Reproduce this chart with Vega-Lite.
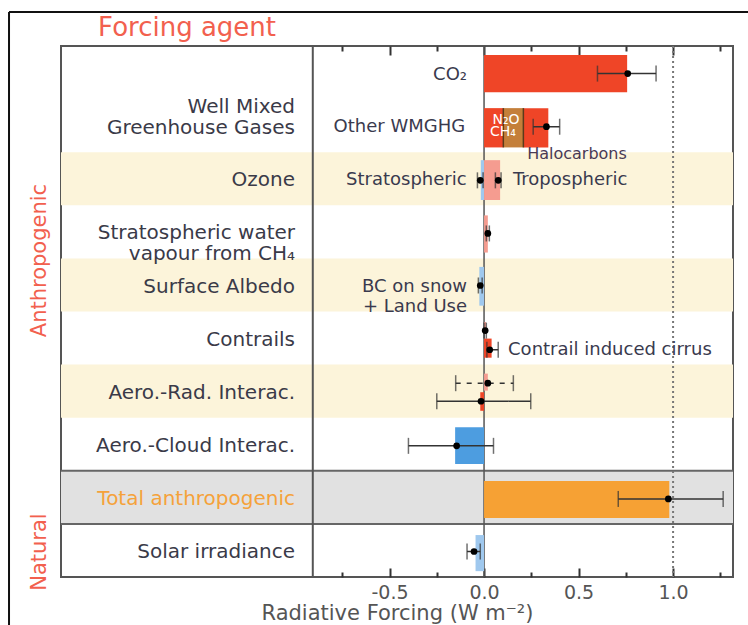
{
  "$schema": "https://vega.github.io/schema/vega-lite/v6.json",
  "description": "Radiative forcing by forcing agent, anthropogenic and natural.",
  "autosize": {"type": "none"},
  "padding": {"left": 61, "top": 46, "right": 15, "bottom": 48},
  "width": 672,
  "height": 531,
  "datasets": {
    "bands": [
      {"row": "Ozone", "y0": 2, "y1": 3, "kind": "odd"},
      {"row": "Surface Albedo", "y0": 4, "y1": 5, "kind": "odd"},
      {"row": "Aero.-Rad. Interac.", "y0": 6, "y1": 7, "kind": "odd"},
      {"row": "Total anthropogenic", "y0": 8, "y1": 9, "kind": "total"}
    ],
    "bars": [
      {"agent": "CO2", "x0": 0, "x1": 0.757, "y0": 0.17, "y1": 0.87, "type": "warming"},
      {"agent": "CH4", "x0": 0, "x1": 0.102, "y0": 1.17, "y1": 1.91, "type": "warming"},
      {"agent": "N2O", "x0": 0.102, "x1": 0.208, "y0": 1.17, "y1": 1.91, "type": "n2o"},
      {"agent": "Halocarbons", "x0": 0.208, "x1": 0.34, "y0": 1.17, "y1": 1.91, "type": "warming"},
      {"agent": "Stratospheric ozone", "x0": -0.017, "x1": 0, "y0": 2.15, "y1": 2.9, "type": "cooling_hatch"},
      {"agent": "Tropospheric ozone", "x0": 0, "x1": 0.085, "y0": 2.15, "y1": 2.9, "type": "warming_hatch"},
      {"agent": "Stratospheric water vapour", "x0": 0, "x1": 0.02, "y0": 3.19, "y1": 3.89, "type": "warming_hatch"},
      {"agent": "Surface albedo", "x0": -0.025, "x1": 0, "y0": 4.16, "y1": 4.89, "type": "cooling_hatch"},
      {"agent": "Contrails", "x0": 0, "x1": 0.01, "y0": 5.2, "y1": 5.42, "type": "warming_hatch"},
      {"agent": "Contrail induced cirrus", "x0": 0, "x1": 0.04, "y0": 5.51, "y1": 5.87, "type": "warming"},
      {"agent": "Aerosol-radiation RF", "x0": 0, "x1": 0.02, "y0": 6.17, "y1": 6.49, "type": "warming_hatch"},
      {"agent": "Aerosol-radiation ERF", "x0": -0.02, "x1": 0, "y0": 6.52, "y1": 6.87, "type": "warming"},
      {"agent": "Aerosol-cloud", "x0": -0.153, "x1": 0, "y0": 7.18, "y1": 7.87, "type": "cooling"},
      {"agent": "Total anthropogenic", "x0": 0, "x1": 0.98, "y0": 8.19, "y1": 8.89, "type": "total"},
      {"agent": "Solar irradiance", "x0": -0.045, "x1": 0, "y0": 9.21, "y1": 9.89, "type": "cooling_hatch"}
    ],
    "errors": [
      {"agent": "CO2", "y": 0.52, "best": 0.76, "low": 0.6, "high": 0.91, "estimate": "ERF"},
      {"agent": "Other WMGHG", "y": 1.52, "best": 0.33, "low": 0.26, "high": 0.4, "estimate": "ERF"},
      {"agent": "Stratospheric ozone", "y": 2.53, "best": -0.02, "low": -0.035, "high": -0.005, "estimate": "ERF"},
      {"agent": "Tropospheric ozone", "y": 2.53, "best": 0.075, "low": 0.06, "high": 0.09, "estimate": "ERF"},
      {"agent": "Stratospheric water vapour", "y": 3.53, "best": 0.02, "low": 0.012, "high": 0.028, "estimate": "ERF"},
      {"agent": "Surface albedo", "y": 4.51, "best": -0.02, "low": -0.03, "high": -0.01, "estimate": "ERF"},
      {"agent": "Contrails", "y": 5.36, "best": 0.006, "low": 0.0, "high": 0.012, "estimate": "ERF"},
      {"agent": "Contrail induced cirrus", "y": 5.72, "best": 0.03, "low": 0.015, "high": 0.075, "estimate": "ERF"},
      {"agent": "Aerosol-radiation RF", "y": 6.35, "best": 0.02, "low": -0.15, "high": 0.155, "estimate": "RF"},
      {"agent": "Aerosol-radiation ERF", "y": 6.69, "best": -0.016, "low": -0.25, "high": 0.247, "estimate": "ERF"},
      {"agent": "Aerosol-cloud", "y": 7.53, "best": -0.145, "low": -0.4, "high": 0.05, "estimate": "ERF"},
      {"agent": "Total anthropogenic", "y": 8.53, "best": 0.975, "low": 0.71, "high": 1.265, "estimate": "ERF"},
      {"agent": "Solar irradiance", "y": 9.52, "best": -0.053, "low": -0.09, "high": -0.02, "estimate": "ERF"}
    ],
    "rows": [
      {"label": "Well Mixed\nGreenhouse Gases", "y": 1.14, "group": "agent"},
      {"label": "Ozone", "y": 2.53, "group": "agent"},
      {"label": "Stratospheric water\nvapour from CH₄", "y": 3.52, "group": "agent"},
      {"label": "Surface Albedo", "y": 4.53, "group": "agent"},
      {"label": "Contrails", "y": 5.53, "group": "agent"},
      {"label": "Aero.-Rad. Interac.", "y": 6.53, "group": "agent"},
      {"label": "Aero.-Cloud Interac.", "y": 7.53, "group": "agent"},
      {"label": "Total anthropogenic", "y": 8.53, "group": "total"},
      {"label": "Solar irradiance", "y": 9.53, "group": "agent"}
    ],
    "notes": [
      {"note": "CO₂", "x": -0.09, "y": 0.55, "side": "left"},
      {"note": "Other WMGHG", "x": -0.1, "y": 1.52, "side": "left"},
      {"note": "Stratospheric", "x": -0.092, "y": 2.53, "side": "left"},
      {"note": "BC on snow\n+ Land Use", "x": -0.09, "y": 4.54, "side": "left"},
      {"note": "Tropospheric", "x": 0.153, "y": 2.53, "side": "right"},
      {"note": "Contrail induced cirrus", "x": 0.127, "y": 5.72, "side": "right"}
    ],
    "inbar": [
      {"note": "N₂O", "x": 0.116, "y": 1.4},
      {"note": "CH₄", "x": 0.1, "y": 1.62}
    ],
    "groups": [
      {"group": "Anthropogenic", "x": -2.35, "y": 4.04},
      {"group": "Natural", "x": -2.35, "y": 9.53}
    ],
    "frame": [
      {"x0": -2.513, "x1": 1.42, "y0": -0.64, "y1": -0.64},
      {"x0": -2.513, "x1": -2.513, "y0": -0.64, "y1": 11}
    ]
  },
  "resolve": {"axis": {"x": "independent"}},
  "layer": [
    {
      "data": {"name": "bands"},
      "mark": {"type": "rect"},
      "encoding": {
        "y": {"field": "y0", "type": "quantitative", "axis": null,
              "scale": {"domain": [0, 10], "reverse": true, "nice": false, "zero": false}},
        "y2": {"field": "y1"},
        "color": {"field": "kind", "type": "nominal", "legend": null,
                  "scale": {"domain": ["odd", "total"], "range": ["#fcf4da", "#e1e1e1"]}}
      }
    },
    {
      "data": {"values": [{"sep": 8}, {"sep": 9}]},
      "mark": {"type": "rule", "color": "#666", "strokeWidth": 2},
      "encoding": {
        "y": {"field": "sep", "type": "quantitative", "axis": null}
      }
    },
    {
      "data": {"values": [{"edge": -0.906}]},
      "mark": {"type": "rule", "color": "#555", "strokeWidth": 2},
      "encoding": {
        "x": {"field": "edge", "type": "quantitative", "axis": null,
              "scale": {"domain": [-2.238, 1.317], "nice": false, "zero": false}}
      }
    },
    {
      "data": {"values": [{"ref": 1.0}]},
      "mark": {"type": "rule", "color": "#777", "strokeWidth": 2, "strokeDash": [2, 3]},
      "encoding": {
        "x": {"field": "ref", "type": "quantitative",
              "axis": {
                "orient": "bottom",
                "values": [-0.75, -0.5, -0.25, 0, 0.25, 0.5, 0.75, 1, 1.25],
                "labelExpr": "datum.value % 0.5 === 0 ? replace(format(datum.value, '.1f'), '−', '-') : ''",
                "tickSize": {"condition": {"test": "datum.value % 0.5 === 0", "value": -9}, "value": -5},
                "tickColor": "#333",
                "tickWidth": 2,
                "domain": false,
                "grid": false,
                "labelFontSize": 19,
                "labelColor": "#555",
                "labelPadding": 15,
                "title": "Radiative Forcing (W m⁻²)",
                "titleFontSize": 21,
                "titleFontWeight": "normal",
                "titleColor": "#555",
                "titlePadding": 0
              }}
      }
    },
    {
      "data": {"values": [{"zero": 0}]},
      "mark": {"type": "rule", "color": "#555", "strokeWidth": 1.5},
      "encoding": {
        "x": {"field": "zero", "type": "quantitative",
              "axis": {
                "orient": "top",
                "values": [-0.75, -0.5, -0.25, 0, 0.25, 0.5, 0.75, 1, 1.25],
                "labels": false,
                "tickSize": {"condition": {"test": "datum.value % 0.5 === 0", "value": -9}, "value": -5},
                "tickColor": "#333",
                "tickWidth": 2,
                "domain": false,
                "grid": false,
                "title": null
              }}
      }
    },
    {
      "data": {"name": "bars"},
      "mark": {"type": "rect"},
      "encoding": {
        "x": {"field": "x0", "type": "quantitative", "axis": null},
        "x2": {"field": "x1"},
        "y": {"field": "y0", "type": "quantitative", "axis": null},
        "y2": {"field": "y1"},
        "fill": {"field": "type", "type": "nominal", "legend": null,
                 "scale": {"domain": ["warming", "n2o", "cooling", "total", "warming_hatch", "cooling_hatch"],
                           "range": ["#ef4527", "#c47f3a", "#4d9de0", "#f6a134", "#f59c90", "#9fc8ee"]}},
        "tooltip": [{"field": "agent", "type": "nominal"}]
      }
    },
    {
      "data": {"values": [{"edge": 0.102}, {"edge": 0.208}]},
      "mark": {"type": "rule", "color": "#5a3a1a", "strokeWidth": 1.5},
      "encoding": {
        "x": {"field": "edge", "type": "quantitative", "axis": null},
        "y": {"datum": 1.17, "type": "quantitative", "axis": null},
        "y2": {"datum": 1.91}
      }
    },
    {
      "data": {"name": "errors"},
      "mark": {"type": "rule", "color": "#333", "strokeWidth": 1.5},
      "encoding": {
        "x": {"field": "low", "type": "quantitative", "axis": null},
        "x2": {"field": "high"},
        "y": {"field": "y", "type": "quantitative", "axis": null},
        "strokeDash": {"field": "estimate", "type": "nominal", "legend": null,
                       "scale": {"domain": ["ERF", "RF"], "range": [[1, 0], [5, 6]]}}
      }
    },
    {
      "data": {"name": "errors"},
      "transform": [{"fold": ["low", "high"], "as": ["end", "value"]}],
      "mark": {"type": "tick", "orient": "vertical", "color": "#333", "size": 16, "thickness": 1.5},
      "encoding": {
        "x": {"field": "value", "type": "quantitative", "axis": null},
        "y": {"field": "y", "type": "quantitative", "axis": null}
      }
    },
    {
      "data": {"name": "errors"},
      "mark": {"type": "point", "shape": "circle", "filled": true, "color": "#000", "size": 45, "opacity": 1},
      "encoding": {
        "x": {"field": "best", "type": "quantitative", "axis": null},
        "y": {"field": "y", "type": "quantitative", "axis": null},
        "tooltip": [{"field": "agent", "type": "nominal"}, {"field": "best", "type": "quantitative"}]
      }
    },
    {
      "data": {"name": "rows"},
      "mark": {"type": "text", "align": "right", "baseline": "middle", "fontSize": 20, "lineBreak": "\n", "lineHeight": 21},
      "encoding": {
        "x": {"datum": -1.0, "type": "quantitative", "axis": null},
        "y": {"field": "y", "type": "quantitative", "axis": null},
        "text": {"field": "label"},
        "color": {"condition": {"test": "datum.group === 'total'", "value": "#f5a23a"}, "value": "#3a3a48"}
      }
    },
    {
      "data": {"name": "notes"},
      "transform": [{"filter": "datum.side === 'left'"}],
      "mark": {"type": "text", "align": "right", "baseline": "middle", "fontSize": 18, "color": "#3a3a4e", "lineBreak": "\n", "lineHeight": 20},
      "encoding": {
        "x": {"field": "x", "type": "quantitative", "axis": null},
        "y": {"field": "y", "type": "quantitative", "axis": null},
        "text": {"field": "note"}
      }
    },
    {
      "data": {"name": "notes"},
      "transform": [{"filter": "datum.side === 'right'"}],
      "mark": {"type": "text", "align": "left", "baseline": "middle", "fontSize": 18, "color": "#3a3a4e"},
      "encoding": {
        "x": {"field": "x", "type": "quantitative", "axis": null},
        "y": {"field": "y", "type": "quantitative", "axis": null},
        "text": {"field": "note"}
      }
    },
    {
      "data": {"values": [{"note": "Halocarbons", "x": 0.228, "y": 2.04}]},
      "mark": {"type": "text", "align": "left", "baseline": "middle", "fontSize": 16, "color": "#4a3a55"},
      "encoding": {
        "x": {"field": "x", "type": "quantitative", "axis": null},
        "y": {"field": "y", "type": "quantitative", "axis": null},
        "text": {"field": "note"}
      }
    },
    {
      "data": {"name": "inbar"},
      "mark": {"type": "text", "align": "center", "baseline": "middle", "fontSize": 14, "color": "#ffffff"},
      "encoding": {
        "x": {"field": "x", "type": "quantitative", "axis": null},
        "y": {"field": "y", "type": "quantitative", "axis": null},
        "text": {"field": "note"}
      }
    },
    {
      "data": {"name": "groups"},
      "mark": {"type": "text", "align": "center", "baseline": "middle", "angle": 270, "fontSize": 21, "color": "#f2604e"},
      "encoding": {
        "x": {"field": "x", "type": "quantitative", "axis": null},
        "y": {"field": "y", "type": "quantitative", "axis": null},
        "text": {"field": "group"}
      }
    },
    {
      "data": {"values": [{"heading": "Forcing agent"}]},
      "mark": {"type": "text", "align": "center", "baseline": "alphabetic", "fontSize": 26, "color": "#f2604e"},
      "encoding": {
        "x": {"datum": -1.571, "type": "quantitative", "axis": null},
        "y": {"datum": -0.19, "type": "quantitative", "axis": null},
        "text": {"field": "heading"}
      }
    },
    {
      "data": {"name": "frame"},
      "mark": {"type": "rule", "color": "#111", "strokeWidth": 2},
      "encoding": {
        "x": {"field": "x0", "type": "quantitative", "axis": null},
        "x2": {"field": "x1"},
        "y": {"field": "y0", "type": "quantitative", "axis": null},
        "y2": {"field": "y1"}
      }
    }
  ],
  "config": {
    "font": "DejaVu Sans",
    "view": {"stroke": "#555", "strokeWidth": 2}
  }
}
